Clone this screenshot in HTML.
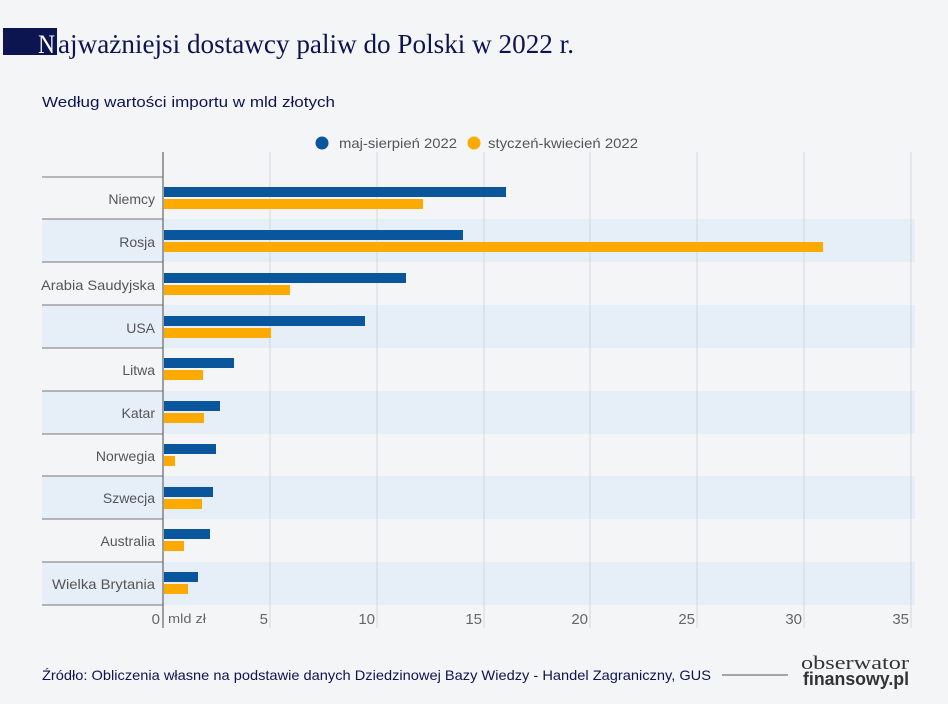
<!DOCTYPE html>
<html><head><meta charset="utf-8"><style>
body{margin:0;background:#f4f5f7;}
svg{display:block;font-family:"Liberation Sans",sans-serif;}
</style></head><body>
<svg width="948" height="704" viewBox="0 0 948 704">
<rect width="948" height="704" fill="#f4f5f7"/>
<rect x="3" y="28" width="54" height="27" fill="#0d1550"/>
<text x="38" y="53" font-family="Liberation Serif,serif" font-size="26" fill="#fff" textLength="17" lengthAdjust="spacingAndGlyphs">N</text>
<text x="58" y="53" font-family="Liberation Serif,serif" font-size="27" fill="#0d1550" textLength="516" lengthAdjust="spacingAndGlyphs">ajważniejsi dostawcy paliw do Polski w 2022 r.</text>
<text x="42" y="107" font-size="15" fill="#0d1550" textLength="293" lengthAdjust="spacingAndGlyphs">Według wartości importu w mld złotych</text>
<circle cx="322" cy="143" r="6.5" fill="#0a569c"/>
<text x="339" y="148" font-size="14" fill="#555" textLength="118" lengthAdjust="spacingAndGlyphs">maj-sierpień 2022</text>
<circle cx="474" cy="143" r="6.5" fill="#fcaa00"/>
<text x="488" y="148" font-size="14" fill="#555" textLength="150" lengthAdjust="spacingAndGlyphs">styczeń-kwiecień 2022</text>
<g fill="#e6eef7">
<rect x="42" y="219" width="873" height="43"/>
<rect x="42" y="305" width="873" height="43"/>
<rect x="42" y="391" width="873" height="43"/>
<rect x="42" y="476" width="873" height="43"/>
<rect x="42" y="562" width="873" height="43"/>
</g>
<g stroke="#d3d6dc" stroke-width="1">
<line x1="270" y1="152" x2="270" y2="628"/><line x1="377" y1="152" x2="377" y2="628"/>
<line x1="484" y1="152" x2="484" y2="628"/><line x1="590" y1="152" x2="590" y2="628"/>
<line x1="697" y1="152" x2="697" y2="628"/><line x1="804" y1="152" x2="804" y2="628"/>
<line x1="911" y1="152" x2="911" y2="628"/>
</g>
<g stroke="#777" stroke-width="1">
<line x1="42" y1="177" x2="163" y2="177"/><line x1="42" y1="219" x2="163" y2="219"/>
<line x1="42" y1="262" x2="163" y2="262"/><line x1="42" y1="305" x2="163" y2="305"/>
<line x1="42" y1="348" x2="163" y2="348"/><line x1="42" y1="391" x2="163" y2="391"/>
<line x1="42" y1="434" x2="163" y2="434"/><line x1="42" y1="476" x2="163" y2="476"/>
<line x1="42" y1="519" x2="163" y2="519"/><line x1="42" y1="562" x2="163" y2="562"/>
<line x1="42" y1="605" x2="163" y2="605"/>
</g>
<g fill="#0a569c">
<rect x="164" y="187" width="342" height="10"/>
<rect x="164" y="230" width="299" height="10"/>
<rect x="164" y="273" width="242" height="10"/>
<rect x="164" y="316" width="201" height="10"/>
<rect x="164" y="358" width="70" height="10"/>
<rect x="164" y="401" width="56" height="10"/>
<rect x="164" y="444" width="52" height="10"/>
<rect x="164" y="487" width="49" height="10"/>
<rect x="164" y="529" width="46" height="10"/>
<rect x="164" y="572" width="34" height="10"/>
</g>
<g fill="#fcaa00">
<rect x="164" y="199" width="259" height="10"/>
<rect x="164" y="242" width="659" height="10"/>
<rect x="164" y="285" width="126" height="10"/>
<rect x="164" y="328" width="107" height="10"/>
<rect x="164" y="370" width="39" height="10"/>
<rect x="164" y="413" width="40" height="10"/>
<rect x="164" y="456" width="11" height="10"/>
<rect x="164" y="499" width="38" height="10"/>
<rect x="164" y="541" width="20" height="10"/>
<rect x="164" y="584" width="24" height="10"/>
</g>
<line x1="163" y1="152" x2="163" y2="628" stroke="#666" stroke-width="1.2"/>
<g font-size="14" fill="#555" text-anchor="end">
<text x="155" y="204">Niemcy</text><text x="155" y="247">Rosja</text>
<text x="155" y="290" textLength="114" lengthAdjust="spacingAndGlyphs">Arabia Saudyjska</text>
<text x="155" y="333">USA</text><text x="155" y="375">Litwa</text>
<text x="155" y="418">Katar</text><text x="155" y="461">Norwegia</text>
<text x="155" y="503">Szwecja</text><text x="155" y="546">Australia</text>
<text x="155" y="589" textLength="103" lengthAdjust="spacingAndGlyphs">Wielka Brytania</text>
</g>
<g font-size="15" fill="#666" text-anchor="end">
<text x="160" y="624">0</text><text x="268" y="624">5</text><text x="375" y="624">10</text>
<text x="482" y="624">15</text><text x="588" y="624">20</text><text x="695" y="624">25</text>
<text x="802" y="624">30</text><text x="909" y="624">35</text>
</g>
<text x="168" y="623" font-size="13" fill="#666" textLength="38" lengthAdjust="spacingAndGlyphs">mld zł</text>
<text x="42" y="680" font-size="14" fill="#0d1550" textLength="669" lengthAdjust="spacingAndGlyphs">Źródło: Obliczenia własne na podstawie danych Dziedzinowej Bazy Wiedzy - Handel Zagraniczny, GUS</text>
<line x1="722" y1="675" x2="788" y2="675" stroke="#555" stroke-width="1"/>
<text x="801" y="669" font-family="Liberation Serif,serif" font-size="19" fill="#333" textLength="108" lengthAdjust="spacingAndGlyphs">obserwator</text>
<text x="803" y="685" font-size="18" font-weight="bold" fill="#333" textLength="106" lengthAdjust="spacingAndGlyphs">finansowy.pl</text>
</svg>
</body></html>
